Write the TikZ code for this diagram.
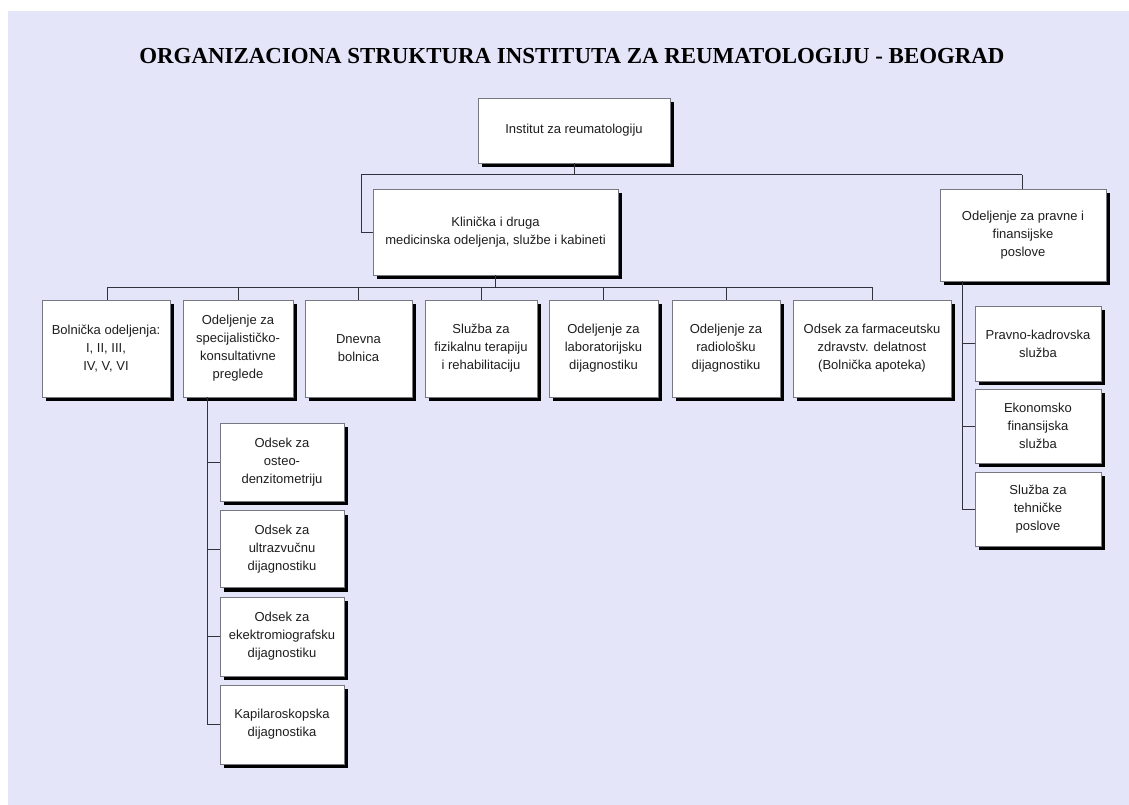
\documentclass[tikz,border=0pt]{standalone}
\usepackage{fontspec}
\setmainfont{Liberation Sans}
\newfontfamily\titlefont{Liberation Serif}
\usetikzlibrary{shadows}
\definecolor{bgcol}{RGB}{229,229,249}
\definecolor{linecol}{RGB}{50,50,60}
\definecolor{boxline}{RGB}{120,120,130}
\definecolor{txtcol}{RGB}{30,30,30}
\begin{document}
\begin{tikzpicture}[x=1pt,y=-1pt,
  orgbox/.style={draw=boxline, line width=0.8pt, fill=white, align=center,
    inner sep=2pt, text=txtcol,
    font=\fontsize{13}{18}\selectfont,
    drop shadow={shadow xshift=4pt, shadow yshift=-4pt, opacity=1, fill=black}},
  conn/.style={draw=linecol, line width=1pt}
]
\useasboundingbox (0,0) rectangle (1129,805);
\fill[white] (0,0) rectangle (1129,805);
\fill[bgcol] (8,11) rectangle (1129,805);

\node[anchor=base, font=\titlefont\bfseries\fontsize{22.9}{27}\selectfont, text=black] (title) at (572,64)
  {ORGANIZACIONA STRUKTURA INSTITUTA ZA REUMATOLOGIJU - BEOGRAD};

% level 0
\node[orgbox, minimum width=192pt, minimum height=65pt] (top) at (574,130.5) {Institut za reumatologiju};

% level 1
\node[orgbox, minimum width=245pt, minimum height=86pt] (klin) at (495.5,232)
  {Klinička i druga\\medicinska odeljenja, službe i kabineti};
\node[orgbox, minimum width=166pt, minimum height=92pt] (prav) at (1023,235)
  {Odeljenje za pravne i\\finansijske\\poslove};

% level 2 row
\node[orgbox, minimum width=128pt, minimum height=97pt] (bol) at (106,348.5)
  {Bolnička odeljenja:\\I, II, III,\\IV, V, VI};
\node[orgbox, minimum width=110pt, minimum height=97pt] (spec) at (238,348.5)
  {Odeljenje za\\specijalističko-\\konsultativne\\preglede};
\node[orgbox, minimum width=107pt, minimum height=97pt] (dnev) at (358.5,348.5)
  {Dnevna\\bolnica};
\node[orgbox, minimum width=112pt, minimum height=97pt] (fiz) at (481,348.5)
  {Služba za\\fizikalnu terapiju\\i rehabilitaciju};
\node[orgbox, minimum width=109pt, minimum height=97pt] (lab) at (603.5,348.5)
  {Odeljenje za\\laboratorijsku\\dijagnostiku};
\node[orgbox, minimum width=108pt, minimum height=97pt] (rad) at (726,348.5)
  {Odeljenje za\\radiološku\\dijagnostiku};
\node[orgbox, minimum width=158pt, minimum height=97pt] (farm) at (872,348.5)
  {Odsek za farmaceutsku\\zdravstv. delatnost\\(Bolnička apoteka)};

% right column
\node[orgbox, minimum width=126pt, minimum height=75pt] (pk) at (1038,343.5)
  {Pravno-kadrovska\\služba};
\node[orgbox, minimum width=126pt, minimum height=74pt] (ek) at (1038,426)
  {Ekonomsko\\finansijska\\služba};
\node[orgbox, minimum width=126pt, minimum height=74pt] (teh) at (1038,509)
  {Služba za\\tehničke\\poslove};

% sub column under spec
\node[orgbox, minimum width=124pt, minimum height=78pt] (ost) at (282,462)
  {Odsek za\\osteo-\\denzitometriju};
\node[orgbox, minimum width=124pt, minimum height=77pt] (ult) at (282,549)
  {Odsek za\\ultrazvučnu\\dijagnostiku};
\node[orgbox, minimum width=124pt, minimum height=79pt] (emg) at (282,636.5)
  {Odsek za\\ekektromiografsku\\dijagnostiku};
\node[orgbox, minimum width=124pt, minimum height=79pt] (kap) at (282,724.5)
  {Kapilaroskopska\\dijagnostika};

% connectors level 0 -> 1
\coordinate (h1l) at (361,175);
\coordinate (h1r) at (1022,175);
\draw[conn] (top.south) -- (top.south |- h1l);
\draw[conn] (h1l) -- (h1r);
\draw[conn] (h1l) |- (klin.west);
\draw[conn] (h1r) -- (h1r |- prav.north);

% connectors level 1 -> 2
\coordinate (bus) at (0,287);
\coordinate (busl) at (107,287);
\coordinate (busr) at (872,287);
\draw[conn] (klin.south) -- (klin.south |- bus);
\draw[conn] (busl) -- (busr);
\foreach \n in {dnev,fiz,lab,rad,farm}{
  \draw[conn] (\n.north |- bus) -- (\n.north);
}
\draw[conn] (busl) -- (busl |- bol.north);
\draw[conn] (spec.north |- bus) -- (spec.north);

% spec sub column
\coordinate (sv) at (207,0);
\draw[conn] (sv |- spec.south) |- (kap.west);
\foreach \n in {ost,ult,emg}{
  \draw[conn] (sv |- \n.west) -- (\n.west);
}

% right sub column
\coordinate (pv) at (962,0);
\draw[conn] (pv |- prav.south) |- (teh.west);
\foreach \n in {pk,ek}{
  \draw[conn] (pv |- \n.west) -- (\n.west);
}
\end{tikzpicture}
\end{document}
